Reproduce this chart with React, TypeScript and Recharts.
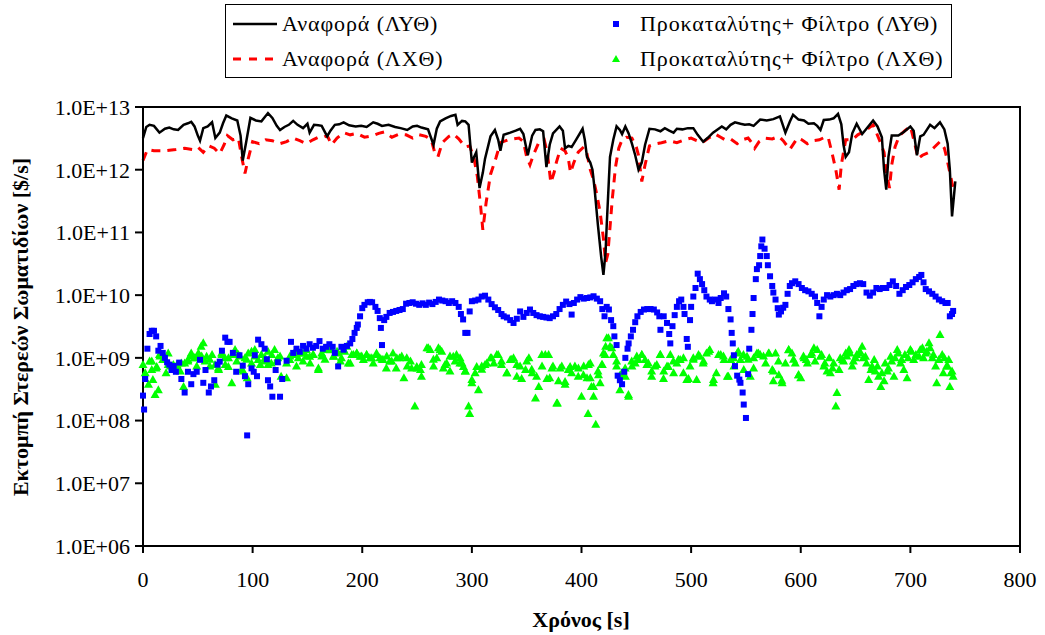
import { ComposedChart, Line, Scatter, XAxis, YAxis, ReferenceArea, Label } from "recharts";

const FONT = '"Liberation Serif", "Times New Roman", serif';

// Αναφορά (ΛΥΘ) — black solid line
const refHotT = [0, 3, 6, 10, 15, 20, 24, 28, 32, 37, 41, 44, 47, 50, 52, 55, 59, 63, 66, 70, 73, 76, 81, 86, 89, 91, 94, 98, 103, 108, 114, 118, 122, 125, 129, 133, 137, 141, 146, 150, 152, 156, 160, 163, 168, 171, 175, 179, 183, 188, 194, 199, 204, 210, 214, 218, 224, 230, 235, 241, 246, 250, 254, 260, 265, 268, 271, 276, 281, 285, 287, 291, 294, 297, 300, 302, 304, 307, 310, 312, 317, 321, 324, 326, 329, 335, 340, 344, 347, 351, 355, 358, 362, 365, 368, 371, 374, 380, 383, 385, 388, 391, 395, 401, 403, 405, 408, 410, 412, 415, 418, 420, 422, 423, 425, 426, 429, 432, 435, 437, 440, 443, 446, 449, 452, 455, 458, 462, 467, 472, 476, 480, 484, 487, 492, 497, 502, 506, 511, 515, 520, 528, 532, 536, 540, 545, 549, 553, 557, 563, 569, 575, 581, 586, 590, 593, 598, 603, 607, 612, 615, 618, 621, 626, 630, 634, 637, 639, 641, 644, 647, 651, 656, 659, 666, 670, 674, 676, 678, 680, 683, 689, 694, 700, 703, 706, 709, 712, 718, 722, 727, 731, 734, 736, 738, 741];
const refHotV = [3.2e12, 4.8e12, 5.2e12, 5.0e12, 3.9e12, 4.5e12, 4.7e12, 4.4e12, 4.3e12, 5.2e12, 5.5e12, 5.8e12, 4.9e12, 3.5e12, 2.9e12, 4.6e12, 4.9e12, 5.7e12, 3.2e12, 3.9e12, 5.5e12, 7.3e12, 6.6e12, 6.1e12, 3.5e12, 1.4e12, 2.7e12, 6.7e12, 6.1e12, 5.9e12, 8.0e12, 6.7e12, 5.0e12, 4.3e12, 4.8e12, 5.2e12, 6.0e12, 5.2e12, 4.6e12, 5.4e12, 3.9e12, 5.2e12, 5.1e12, 5.0e12, 3.4e12, 4.2e12, 5.2e12, 5.3e12, 5.7e12, 5.1e12, 4.9e12, 5.0e12, 4.8e12, 5.7e12, 5.4e12, 5.0e12, 5.2e12, 4.8e12, 4.6e12, 4.3e12, 4.9e12, 5.0e12, 4.7e12, 4.4e12, 2.5e12, 4.5e12, 5.9e12, 6.6e12, 7.2e12, 7.5e12, 5.2e12, 6.0e12, 5.9e12, 5.2e12, 1.3e12, 1.6e12, 1.9e12, 5.1e11, 9e11, 1.5e12, 3.4e12, 4.3e12, 3.0e12, 2.0e12, 3.6e12, 3.9e12, 4.2e12, 4.5e12, 3.7e12, 1.7e12, 3.5e12, 4.3e12, 4.4e12, 4.1e12, 1.1e12, 2.5e12, 3.8e12, 4.9e12, 4.2e12, 2.2e12, 2.4e12, 2.3e12, 3.0e12, 4.5e12, 3.0e12, 1.6e12, 1.3e12, 1.0e12, 4.8e11, 1.3e11, 4e10, 2.1e10, 5e10, 1.3e11, 7e11, 1.6e12, 3.0e12, 4.9e12, 4.3e12, 3.7e12, 4.9e12, 3.8e12, 2.6e12, 1.7e12, 1.0e12, 1.3e12, 2.5e12, 4.5e12, 4.4e12, 4.1e12, 4.6e12, 4.2e12, 3.9e12, 4.5e12, 4.4e12, 4.6e12, 4.6e12, 3.6e12, 2.8e12, 3.2e12, 3.9e12, 4.9e12, 4.4e12, 5.2e12, 5.7e12, 5.4e12, 5.2e12, 5.3e12, 5.0e12, 6.3e12, 6.1e12, 6.4e12, 7.1e12, 3.9e12, 5.8e12, 7.5e12, 6.3e12, 6.1e12, 5.4e12, 5.5e12, 5.0e12, 4.3e12, 6.2e12, 6.3e12, 6.6e12, 7.8e12, 5.3e12, 2.5e12, 1.6e12, 1.9e12, 3.8e12, 5.4e12, 3.7e12, 4.3e12, 6.1e12, 4.9e12, 3.3e12, 1.0e12, 4.8e11, 1.6e12, 3.5e12, 3.5e12, 4.0e12, 4.9e12, 4.2e12, 1.7e12, 3.4e12, 3.6e12, 5.2e12, 4.6e12, 5.7e12, 4.4e12, 2.6e12, 1.0e12, 1.8e11, 6.5e11];

// Αναφορά (ΛΧΘ) — red dashed line
const refColdT = [0, 4, 10, 20, 30, 38, 45, 50, 55, 60, 65, 70, 74, 77, 82, 87, 90, 93, 96, 100, 106, 112, 118, 125, 131, 137, 143, 149, 155, 160, 165, 168, 172, 177, 183, 189, 195, 202, 210, 215, 220, 227, 234, 240, 246, 252, 258, 263, 266, 269, 273, 279, 283, 288, 294, 298, 302, 305, 308, 310, 313, 317, 322, 326, 333, 338, 343, 347, 350, 353, 356, 361, 366, 369, 372, 375, 377, 381, 385, 388, 390, 393, 397, 402, 405, 408, 411, 414, 417, 420, 422, 424, 426, 428, 431, 434, 437, 441, 446, 450, 452, 455, 458, 462, 468, 473, 480, 487, 494, 500, 505, 510, 516, 522, 527, 531, 536, 542, 547, 552, 556, 558, 562, 567, 574, 580, 584, 590, 597, 601, 606, 611, 617, 622, 625, 629, 632, 635, 637, 641, 647, 652, 658, 662, 666, 669, 672, 676, 678, 681, 683, 686, 690, 695, 700, 704, 707, 711, 717, 722, 727, 731, 733, 736, 739];
const refColdV = [1.4e12, 2.1e12, 2.0e12, 2.0e12, 2.1e12, 2.2e12, 2.1e12, 2.3e12, 1.9e12, 2.4e12, 2.2e12, 1.8e12, 2.5e12, 3.5e12, 3.0e12, 3.2e12, 1.6e12, 8.7e11, 1.5e12, 2.8e12, 2.6e12, 3.0e12, 2.9e12, 2.6e12, 2.8e12, 3.2e12, 2.9e12, 2.6e12, 3.0e12, 3.3e12, 3.3e12, 3.5e12, 2.5e12, 3.2e12, 3.9e12, 3.6e12, 3.8e12, 3.3e12, 3.5e12, 3.8e12, 4.0e12, 3.3e12, 3.7e12, 3.6e12, 3.2e12, 3.6e12, 3.4e12, 3.0e12, 1.9e12, 1.6e12, 2.7e12, 3.4e12, 3.7e12, 3.1e12, 2.3e12, 2.4e12, 1.5e12, 7.8e11, 2.6e11, 1.1e11, 3e11, 8.4e11, 1.55e12, 2.7e12, 3.0e12, 3.1e12, 3.2e12, 2.8e12, 1.6e12, 1.2e12, 1.7e12, 2.7e12, 3.0e12, 1.8e12, 6.2e11, 9e11, 1.3e12, 2.2e12, 2.0e12, 1.5e12, 9e11, 1.3e12, 1.9e12, 2.3e12, 1.8e12, 1.0e12, 6.9e11, 4e11, 2.1e11, 8e10, 3.3e10, 4.5e10, 1.2e11, 3.3e11, 1.1e12, 2.2e12, 3.0e12, 3.3e12, 3.2e12, 2.3e12, 1.7e12, 6.5e11, 1.2e12, 2.4e12, 2.6e12, 2.7e12, 2.9e12, 2.7e12, 3.0e12, 3.2e12, 2.9e12, 2.7e12, 3.2e12, 3.7e12, 3.3e12, 3.0e12, 3.1e12, 2.6e12, 3.0e12, 3.2e12, 2.6e12, 2.2e12, 2.8e12, 3.2e12, 3.1e12, 3.4e12, 2.9e12, 2.1e12, 3.2e12, 3.0e12, 2.6e12, 2.9e12, 3.0e12, 3.3e12, 3.3e12, 1.7e12, 1.0e12, 4.8e11, 1.2e12, 3.0e12, 3.0e12, 3.6e12, 4.1e12, 4.6e12, 5.2e12, 3.9e12, 2.9e12, 1.9e12, 9e11, 5.1e11, 1.2e12, 2.3e12, 3.5e12, 4.2e12, 4.9e12, 2.6e12, 1.5e12, 1.7e12, 1.9e12, 2.3e12, 2.8e12, 2.2e12, 1.6e12, 9e11, 5.1e11];

// Προκαταλύτης+ Φίλτρο (ΛΥΘ) — blue squares
const dpfHotT = [0, 1, 2, 4, 6, 8, 10, 12, 14, 16, 18, 20, 22, 24, 26, 28, 30, 33, 35, 38, 41, 44, 46, 49, 52, 55, 57, 60, 62, 65, 68, 70, 72, 75, 77, 79, 82, 85, 88, 91, 93, 95, 96, 99, 101, 102, 104, 105, 108, 111, 113, 114, 116, 118, 121, 123, 125, 127, 131, 135, 137, 140, 143, 146, 149, 152, 155, 158, 161, 164, 167, 170, 173, 175, 178, 181, 183, 186, 189, 191, 193, 195, 196, 198, 200, 202, 205, 207, 209, 212, 214, 216, 217, 218, 220, 222, 225, 228, 231, 234, 237, 240, 243, 246, 249, 252, 255, 258, 261, 264, 267, 270, 273, 276, 279, 282, 285, 288, 290, 292, 294, 296, 298, 300, 303, 306, 309, 312, 315, 318, 321, 324, 327, 329, 332, 335, 338, 341, 344, 347, 350, 353, 356, 359, 362, 365, 368, 371, 374, 377, 380, 383, 386, 389, 391, 393, 396, 399, 402, 405, 408, 411, 414, 417, 419, 421, 423, 425, 427, 429, 430, 432, 433, 435, 437, 439, 440, 442, 443, 445, 447, 449, 451, 454, 457, 460, 463, 466, 469, 471, 472, 475, 478, 480, 481, 483, 485, 487, 489, 491, 493, 494, 496, 497, 499, 500, 502, 504, 506, 508, 510, 512, 514, 517, 519, 522, 525, 527, 530, 532, 534, 536, 537, 538, 539, 540, 542, 544, 545, 547, 548, 550, 552, 553, 555, 556, 557, 559, 560, 562, 563, 564, 565, 567, 569, 570, 572, 574, 575, 577, 579, 580, 582, 584, 586, 588, 590, 592, 595, 598, 601, 604, 607, 610, 613, 615, 617, 619, 621, 624, 627, 630, 633, 636, 639, 642, 645, 648, 651, 654, 657, 660, 663, 666, 669, 672, 675, 678, 681, 684, 687, 690, 693, 696, 699, 702, 705, 708, 710, 712, 714, 717, 720, 723, 726, 729, 732, 734, 736, 738, 739];
const dpfHotV = [2.5e8, 1.5e8, 4.6e8, 1.4e9, 2.4e9, 2.7e9, 2.7e9, 2.2e9, 1.3e9, 1.55e9, 1.2e9, 1.0e9, 8.5e8, 7.8e8, 6.4e8, 7.4e8, 6.0e8, 8.4e8, 4.6e8, 2.8e8, 6.0e8, 3.8e8, 5.5e8, 6.0e8, 9.3e8, 4.0e8, 6.4e8, 2.8e8, 3.5e8, 4.4e8, 7.8e8, 8.7e8, 1.3e9, 2.1e9, 1.8e9, 1.8e9, 1.2e9, 6.0e8, 1.1e9, 7.5e8, 5.1e8, 5.8e7, 3.8e8, 6.8e8, 6.0e8, 1.1e9, 5.1e8, 1.95e9, 1.65e9, 1.4e9, 9.5e8, 4.4e8, 3.5e8, 2.4e8, 6.4e8, 8.5e8, 2.4e8, 4.6e8, 9e8, 1.8e9, 1.2e9, 1.4e9, 1.25e9, 1.55e9, 1.4e9, 1.65e9, 1.45e9, 1.55e9, 1.85e9, 1.4e9, 1.5e9, 1.65e9, 1.5e9, 1.2e9, 7.3e8, 1.5e9, 1.35e9, 1.55e9, 1.7e9, 2.0e9, 2.5e9, 3.0e9, 3.4e9, 4.6e9, 6.2e9, 7.0e9, 7.7e9, 7.8e9, 7.7e9, 6.5e9, 5.6e9, 4.3e9, 3.0e9, 1.6e9, 4.0e9, 4.5e9, 5.2e9, 5.4e9, 5.6e9, 5.8e9, 6.0e9, 7.3e9, 7.5e9, 7.7e9, 7.3e9, 7.0e9, 7.4e9, 7.0e9, 7.6e9, 7.2e9, 7.8e9, 8.5e9, 8.2e9, 8.0e9, 7.5e9, 8.0e9, 7.5e9, 6.5e9, 5.0e9, 4.1e9, 2.5e9, 2.5e9, 5.5e9, 8.0e9, 8.2e9, 8.5e9, 9.5e9, 9.8e9, 8.5e9, 7.2e9, 6.4e9, 5.8e9, 5.0e9, 4.6e9, 4.4e9, 4.0e9, 3.6e9, 4.2e9, 5.5e9, 4.5e9, 5.2e9, 5.9e9, 5.2e9, 4.8e9, 4.6e9, 4.5e9, 4.4e9, 4.3e9, 4.6e9, 5.0e9, 6.0e9, 7.0e9, 7.9e9, 7.2e9, 4.9e9, 7.5e9, 8.5e9, 9.3e9, 8.8e9, 9.0e9, 9.2e9, 9.6e9, 8.8e9, 8.0e9, 6.0e9, 4.6e9, 6.5e9, 5.9e9, 4.0e9, 3.2e9, 2.2e9, 1.6e9, 5.2e8, 4.4e8, 3.8e8, 6.0e8, 1.0e9, 1.4e9, 1.7e9, 2.2e9, 2.8e9, 3.7e9, 4.6e9, 5.4e9, 5.9e9, 6.0e9, 6.0e9, 5.9e9, 5.3e9, 4.6e9, 2.8e9, 4.6e9, 3.6e9, 2.4e9, 1.7e9, 3.2e9, 4.8e9, 6.5e9, 8.0e9, 8.5e9, 6.5e9, 5.0e9, 2.0e9, 1.5e9, 4.0e9, 6.5e9, 9.5e9, 1.3e10, 2.2e10, 1.8e10, 1.5e10, 1.2e10, 9.5e9, 8.5e9, 8.0e9, 8.5e9, 7.5e9, 9.0e9, 1.07e10, 9.5e9, 6.0e9, 4.1e9, 2.5e9, 1.7e9, 1.1e9, 7.4e8, 5.2e8, 4.5e8, 4.0e8, 2.8e8, 1.8e8, 1.1e8, 5.5e8, 1.4e9, 2.8e9, 5.0e9, 9.0e9, 1.8e10, 2.6e10, 3.0e10, 4.2e10, 6.0e10, 7.7e10, 5.5e10, 4.2e10, 3.0e10, 2.0e10, 1.4e10, 1.1e10, 8.5e9, 6.2e9, 4.9e9, 5.5e9, 6.3e9, 7.0e9, 1.05e10, 1.4e10, 1.55e10, 1.66e10, 1.5e10, 1.3e10, 1.2e10, 1.15e10, 1.05e10, 9.5e9, 7.5e9, 4.6e9, 6.5e9, 8.5e9, 1.0e10, 9.5e9, 1.0e10, 1.05e10, 1.0e10, 1.1e10, 1.2e10, 1.25e10, 1.4e10, 1.5e10, 1.55e10, 1.5e10, 1.1e10, 9.8e9, 1.1e10, 1.3e10, 1.25e10, 1.3e10, 1.3e10, 1.45e10, 1.66e10, 1.4e10, 1.05e10, 1.2e10, 1.35e10, 1.45e10, 1.6e10, 1.8e10, 1.95e10, 2.1e10, 1.6e10, 1.25e10, 1.15e10, 1.05e10, 9.5e9, 8.5e9, 8.0e9, 7.5e9, 7.5e9, 4.6e9, 5.0e9, 5.6e9];

// Προκαταλύτης+ Φίλτρο (ΛΧΘ) — green triangles (first reading pass)
const dpfColdT = [0, 2, 5, 6, 8, 9, 11, 12, 14, 15, 18, 21, 23, 25, 28, 31, 34, 37, 38, 41, 44, 47, 49, 51, 53, 55, 58, 61, 63, 66, 69, 72, 75, 78, 81, 84, 87, 90, 93, 95, 96, 99, 102, 105, 108, 111, 114, 117, 120, 123, 126, 131, 134, 137, 140, 143, 146, 149, 152, 155, 160, 163, 166, 171, 174, 177, 180, 183, 186, 189, 192, 195, 198, 201, 204, 207, 210, 213, 216, 219, 222, 225, 228, 231, 234, 238, 241, 244, 248, 250, 253, 254, 259, 262, 265, 268, 271, 274, 277, 280, 283, 286, 289, 291, 294, 297, 298, 300, 303, 306, 309, 312, 317, 320, 324, 327, 332, 335, 338, 341, 344, 349, 352, 355, 358, 361, 364, 367, 370, 371, 374, 378, 379, 382, 385, 388, 391, 394, 397, 400, 402, 405, 406, 408, 409, 411, 413, 415, 417, 419, 420, 422, 423, 426, 429, 432, 435, 437, 440, 443, 446, 449, 452, 455, 458, 461, 464, 467, 472, 475, 478, 481, 484, 487, 490, 493, 496, 499, 502, 505, 508, 511, 514, 517, 520, 523, 527, 530, 533, 536, 539, 542, 545, 548, 551, 554, 557, 560, 563, 568, 571, 574, 575, 577, 580, 583, 586, 589, 592, 595, 598, 600, 603, 606, 609, 612, 615, 618, 621, 624, 627, 630, 632, 633, 635, 638, 641, 644, 647, 650, 653, 656, 659, 662, 665, 668, 671, 673, 676, 679, 682, 685, 688, 691, 694, 697, 700, 703, 708, 711, 714, 717, 720, 723, 724, 727, 729, 730, 733, 735, 736, 738, 739];
const dpfColdV = [7.8e8, 5.8e8, 3.8e8, 8.9e8, 6.5e8, 4.5e8, 2.6e8, 6.9e8, 3.1e8, 1.13e9, 9.4e8, 5.8e8, 1.2e9, 7.4e8, 6.9e8, 7.8e8, 6.2e8, 3.5e8, 8.3e8, 9.4e8, 1.2e9, 1.0e9, 7.4e8, 1.13e9, 1.53e9, 1.74e9, 1.06e9, 7.4e8, 1.13e9, 3.8e8, 6.5e8, 1.13e9, 7.8e8, 1.0e9, 4.0e8, 1.36e9, 1.13e9, 6.5e8, 1.0e9, 4.8e8, 1.2e9, 8.3e8, 1.36e9, 9.4e8, 1.13e9, 8.9e8, 1.28e9, 8.3e8, 1.36e9, 1.0e9, 5.1e8, 4.8e8, 9.4e8, 1.13e9, 7.4e8, 1.2e9, 8.9e8, 1.36e9, 1.06e9, 1.13e9, 6.5e8, 1.2e9, 1.36e9, 1.45e9, 1.06e9, 1.28e9, 8.9e8, 1.36e9, 1.53e9, 8.3e8, 1.13e9, 1.2e9, 1.06e9, 9.4e8, 1.13e9, 1.0e9, 8.3e8, 1.13e9, 1.0e9, 9.4e8, 6.9e8, 8.9e8, 1.2e9, 6.9e8, 1.0e9, 4.8e8, 7.4e8, 8.9e8, 1.7e8, 6.9e8, 6.5e8, 5.1e8, 1.45e9, 1.36e9, 7.4e8, 1.0e9, 1.36e9, 6.9e8, 8.3e8, 6.2e8, 1.06e9, 1.13e9, 8.3e8, 8.3e8, 6.2e8, 1.7e8, 1.3e8, 4.0e8, 5.8e8, 3.1e8, 7.4e8, 7.8e8, 1.0e9, 8.3e8, 1.13e9, 7.8e8, 5.8e8, 9.4e8, 1.0e9, 5.1e8, 7.4e8, 6.5e8, 1.0e9, 5.8e8, 2.3e8, 3.5e8, 7.4e8, 1.13e9, 1.13e9, 4.8e8, 7.4e8, 1.9e8, 4.3e8, 7.4e8, 3.8e8, 6.5e8, 5.8e8, 7.4e8, 5.1e8, 2.45e8, 7.4e8, 4.8e8, 1.3e8, 8.3e8, 3.5e8, 2.45e8, 8.7e7, 6.2e8, 4.0e8, 7.8e8, 1.2e9, 1.53e9, 2.1e9, 1.53e9, 1.13e9, 7.4e8, 3.1e8, 5.8e8, 5.1e8, 2.45e8, 7.4e8, 8.3e8, 9.4e8, 1.13e9, 9.4e8, 8.3e8, 5.1e8, 7.4e8, 1.13e9, 6.2e8, 7.4e8, 1.13e9, 5.8e8, 8.3e8, 9.4e8, 5.8e8, 4.5e8, 7.4e8, 1.0e9, 4.5e8, 1.06e9, 8.3e8, 1.2e9, 1.36e9, 4.0e8, 5.8e8, 1.13e9, 9.4e8, 5.1e8, 9.4e8, 7.4e8, 1.2e9, 9.4e8, 6.5e8, 1.06e9, 5.1e8, 1.0e9, 1.2e9, 1.13e9, 8.3e8, 1.2e9, 6.5e8, 4.3e8, 1.2e9, 5.4e8, 4.0e8, 8.3e8, 1.36e9, 1.2e9, 8.3e8, 5.4e8, 4.8e8, 1.0e9, 8.3e8, 1.13e9, 1.45e9, 1.36e9, 1.06e9, 7.4e8, 6.2e8, 5.8e8, 8.3e8, 1.7e8, 2.8e8, 6.5e8, 9.4e8, 1.2e9, 1.36e9, 7.4e8, 1.0e9, 1.2e9, 1.53e9, 1.06e9, 4.5e8, 7.4e8, 6.2e8, 5.1e8, 3.5e8, 4.3e8, 6.2e8, 1.06e9, 5.1e8, 1.36e9, 8.3e8, 6.5e8, 4.8e8, 1.36e9, 9.4e8, 1.06e9, 1.45e9, 1.2e9, 1.74e9, 1.0e9, 7.4e8, 4.0e8, 2.35e9, 1.13e9, 5.8e8, 7.4e8, 9.4e8, 3.5e8, 6.2e8, 5.1e8];

// green triangles (second reading pass, in between the first)
const dpfColdExtraT = [8, 12.5, 15.5, 18.5, 23, 27.7, 32, 35, 41, 44, 47.4, 50.5, 53.5, 56.6, 61, 65.7, 68.7, 71.7, 74.8, 77.9, 82.4, 85.5, 88.5, 91.5, 94.6, 99, 102, 107, 111.3, 114, 117.4, 122, 125, 131, 134, 138.7, 141.7, 146, 149, 152.4, 155.4, 160, 163, 166, 170.6, 173.7, 178, 181, 184, 187.3, 190.4, 195, 199.5, 204, 208.7, 213, 218, 222.3, 226.9, 231.5, 236, 240.6, 245, 249.7, 254, 260.3, 264.9, 269.5, 272.5, 275.5, 280, 284.7, 289.2, 292.3, 294, 300, 304.4, 309, 313.6, 318, 322.7, 327, 331.8, 336.4, 341, 345.4, 350, 354.6, 359, 363.8, 368.4, 373, 377.4, 380.5, 385, 389.6, 397.2, 401.8, 406.3, 408, 411, 415.5, 418.5, 421.5, 424.6, 427.6, 432, 435.3, 439.8, 442.8, 445.8, 450.4, 455, 459.6, 464, 468.7, 471.7, 474.8, 479.3, 483.8, 488.4, 493, 497.6, 502, 506.7, 511.3, 516, 520.4, 525, 529.5, 534, 538.6, 543, 547.7, 552, 557, 561.4, 566, 570.6, 575, 579.7, 582.7, 589, 593.4, 598, 602.5, 605, 610, 613, 619, 622, 626, 629, 636, 639, 642, 645, 648, 651, 654, 657, 660, 664, 667, 670, 674, 677, 680, 683, 686, 689, 692, 695, 698, 701, 705, 709, 712, 715, 718, 721, 726, 731, 734, 737];
const dpfColdExtraV = [8.9e8, 7.3e8, 1.07e9, 9.5e8, 7.8e8, 7.8e8, 6.9e8, 8.3e8, 8.9e8, 1.07e9, 1.0e9, 1.2e9, 1.07e9, 8.9e8, 9.5e8, 7.8e8, 6.9e8, 1.2e9, 1.0e9, 7.3e8, 1.13e9, 8.9e8, 1.07e9, 6.2e8, 9.5e8, 1.28e9, 1.07e9, 7.8e8, 1.0e9, 7.8e8, 1.13e9, 8.9e8, 1.07e9, 8.3e8, 1.07e9, 1.28e9, 1.0e9, 1.2e9, 1.07e9, 8.3e8, 1.13e9, 6.9e8, 1.07e9, 9.5e8, 1.35e9, 1.07e9, 1.2e9, 1.0e9, 1.28e9, 8.3e8, 1.13e9, 1.2e9, 1.07e9, 1.13e9, 1.0e9, 1.2e9, 9.5e8, 1.07e9, 8.9e8, 1.0e9, 1.07e9, 1.0e9, 6.9e8, 7.3e8, 7.8e8, 1.45e9, 9.5e8, 1.45e9, 1.28e9, 7.8e8, 1.07e9, 8.9e8, 1.0e9, 7.3e8, 6.2e8, 4.5e8, 7.3e8, 6.6e8, 8.3e8, 1.0e9, 1.13e9, 8.9e8, 5.8e8, 9.5e8, 7.8e8, 4.7e8, 8.9e8, 6.6e8, 5.1e8, 1.13e9, 4.7e8, 6.9e8, 1.9e8, 6.9e8, 4.2e8, 7.3e8, 6.9e8, 5.4e8, 7.8e8, 4.8e8, 3.5e8, 5.4e8, 7.8e8, 1.13e9, 2.1e9, 1.45e9, 8.9e8, 5.4e8, 6.9e8, 2.6e8, 8.9e8, 1.07e9, 1.13e9, 7.8e8, 6.2e8, 7.8e8, 1.13e9, 4.7e8, 7.3e8, 8.9e8, 9.5e8, 1.0e9, 4.7e8, 9.5e8, 1.13e9, 8.9e8, 1.28e9, 4.5e8, 1.13e9, 1.07e9, 5.1e8, 1.0e9, 1.28e9, 1.13e9, 9.5e8, 6.9e8, 1.2e9, 1.07e9, 1.2e9, 6.2e8, 8.9e8, 4.4e8, 1.35e9, 9.5e8, 5.4e8, 1.07e9, 9.4e8, 1.2e9, 8.9e8, 1.13e9, 8.3e8, 1.0e9, 6.9e8, 1.0e9, 8.9e8, 1.07e9, 1.2e9, 8.9e8, 1.13e9, 1.28e9, 1.0e9, 8.3e8, 6.5e8, 9.4e8, 7.4e8, 5.8e8, 8.3e8, 6.9e8, 8.9e8, 1.0e9, 1.2e9, 9.4e8, 1.13e9, 1.0e9, 1.28e9, 1.13e9, 1.36e9, 1.0e9, 1.28e9, 1.45e9, 1.13e9, 9.4e8, 1.0e9, 7.4e8, 5.8e8];

const xTicks = [0, 100, 200, 300, 400, 500, 600, 700, 800];
const yTicks = [1e6, 1e7, 1e8, 1e9, 1e10, 1e11, 1e12, 1e13];

const toRows = (ts: number[], vs: number[]) => ts.map((t, i) => ({ t, v: vs[i] }));
const refHot = toRows(refHotT, refHotV);
const refCold = toRows(refColdT, refColdV);
const dpfHot = toRows(dpfHotT, dpfHotV);
const dpfCold = toRows(dpfColdT, dpfColdV).concat(toRows(dpfColdExtraT, dpfColdExtraV));

const fmtExp = (v: number) => {
  const e = Math.round(Math.log10(v));
  return `1.0E+${String(e).padStart(2, "0")}`;
};

const Square = (p: any) => <rect x={p.cx - 3} y={p.cy - 3} width={6} height={6} fill="#0000FF" />;
const Triangle = (p: any) => (
  <polygon points={`${p.cx},${p.cy - 4.5} ${p.cx - 4.5},${p.cy + 3.5} ${p.cx + 4.5},${p.cy + 3.5}`} fill="#00FF00" />
);

function LegendBox() {
  const row = (top: number, sym: React.ReactNode, text: string, left: number) => (
    <div style={{ position: "absolute", top, left, display: "flex", alignItems: "center", height: 24 }}>
      {sym}
      <span style={{ marginLeft: 5, fontSize: 22, letterSpacing: 0.9, whiteSpace: "nowrap" }}>{text}</span>
    </div>
  );
  return (
    <div style={{ position: "absolute", left: 225, top: 4, width: 725, height: 72, border: "1px solid #000", fontFamily: FONT, background: "#fff" }}>
      {row(7, <svg width={46} height={10}><line x1={2} y1={5} x2={46} y2={5} stroke="#000" strokeWidth={2.5} /></svg>, "Αναφορά (ΛΥΘ)", 5)}
      {row(42, <svg width={46} height={10}><line x1={2} y1={5} x2={46} y2={5} stroke="#FF0000" strokeWidth={3} strokeDasharray="8 8" /></svg>, "Αναφορά (ΛΧΘ)", 5)}
      {row(7, <svg width={30} height={10}><rect x={8} y={2} width={6} height={6} fill="#0000FF" /></svg>, "Προκαταλύτης+ Φίλτρο (ΛΥΘ)", 379)}
      {row(42, <svg width={30} height={10}><polygon points="11,1 7,8 15,8" fill="#00FF00" /></svg>, "Προκαταλύτης+ Φίλτρο (ΛΧΘ)", 379)}
    </div>
  );
}

export default function App() {
  return (
    <div style={{ position: "absolute", left: 0, top: 0, width: 1045, height: 635, background: "#fff", fontFamily: FONT }}>
      <ComposedChart width={1045} height={635} margin={{ top: 107, right: 25, bottom: 59, left: 8 }}>
        <XAxis
          type="number"
          dataKey="t"
          domain={[0, 800]}
          ticks={xTicks}
          height={30}
          stroke="#000"
          strokeWidth={2}
          tickSize={7}
          tickMargin={18}
          tick={{ fill: "#000", fontSize: 22, fontFamily: FONT }}
        >
          <Label
            content={() => (
              <text x={581} y={627} textAnchor="middle" fontSize={22} fontWeight="bold" fontFamily={FONT} fill="#000">
                Χρόνος [s]
              </text>
            )}
          />
        </XAxis>
        <YAxis
          type="number"
          dataKey="v"
          scale="log"
          domain={[1e6, 1e13]}
          ticks={yTicks}
          allowDataOverflow
          width={135}
          stroke="#000"
          strokeWidth={2}
          tickSize={8}
          tickMargin={5}
          tickFormatter={fmtExp}
          tick={{ fill: "#000", fontSize: 22, fontFamily: FONT }}
        >
          <Label
            content={() => (
              <text x={28} y={327} transform="rotate(-90 28 327)" textAnchor="middle" fontSize={22} fontWeight="bold" fontFamily={FONT} fill="#000">
                Εκτομπή Στερεών Σωματιδίων [$/s]
              </text>
            )}
          />
        </YAxis>
        <ReferenceArea x1={0} x2={800} y1={1e6} y2={1e13} fill="none" stroke="#000" strokeWidth={2} />
        <Scatter data={dpfCold} dataKey="v" shape={Triangle} isAnimationActive={false} />
        <Scatter data={dpfHot} dataKey="v" shape={Square} isAnimationActive={false} />
        <Line data={refCold} dataKey="v" type="linear" stroke="#FF0000" strokeWidth={3} strokeDasharray="9 7" dot={false} isAnimationActive={false} />
        <Line data={refHot} dataKey="v" type="linear" stroke="#000" strokeWidth={2.5} dot={false} isAnimationActive={false} />
      </ComposedChart>
      <LegendBox />
    </div>
  );
}
